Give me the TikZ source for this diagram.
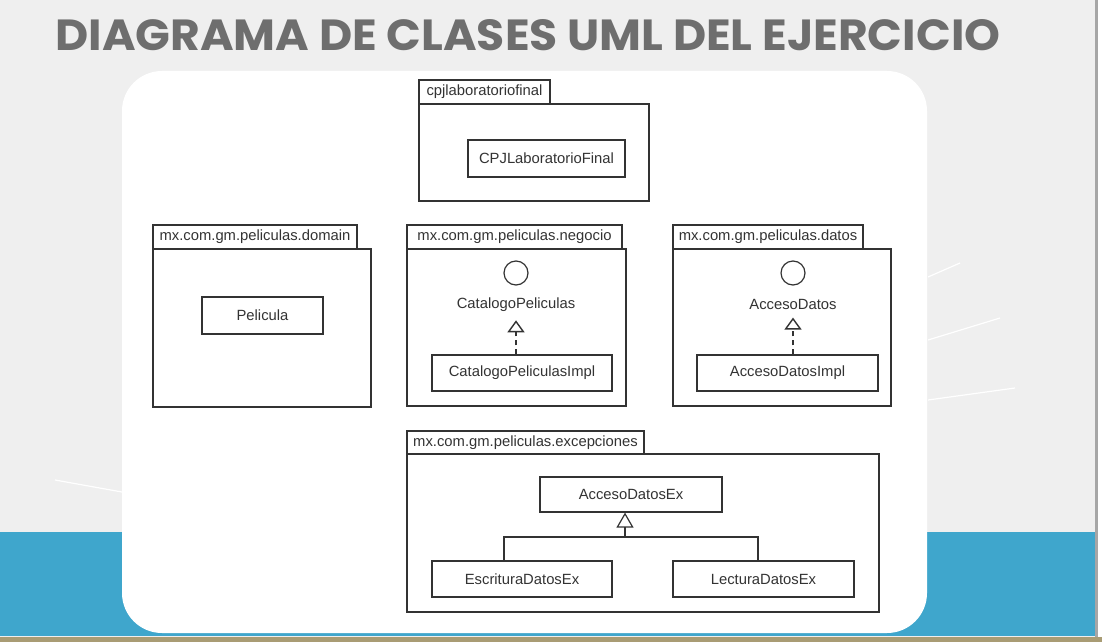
\documentclass[tikz,border=0pt]{standalone}
\usepackage{fontspec}
\setmainfont{Liberation Sans}
\newfontfamily\titlefont{Poppins}
\usetikzlibrary{positioning, fit, arrows.meta}

\definecolor{bgpaper}{HTML}{EFEFEF}
\definecolor{bgwater}{HTML}{3FA6CC}
\definecolor{titlegray}{HTML}{6E6E6E}
\definecolor{umlline}{HTML}{333333}
\definecolor{tanbar}{HTML}{A99C74}

\begin{document}
\begin{tikzpicture}[
    x=0.5pt, y=-0.5pt,
    txt/.style={font=\fontsize{7.4}{9}\selectfont, text=umlline, inner sep=0pt},
    pkg/.style={draw=umlline, line width=0.6pt, fill=white, inner sep=0pt},
    tab/.style={pkg},
    cls/.style={draw=umlline, line width=0.6pt, fill=white, inner sep=0pt},
    iface/.style={circle, draw=umlline, line width=0.6pt, minimum size=12pt, inner sep=0pt},
    ifname/.style={txt, inner sep=1pt},
    realize/.style={
        draw=umlline, line width=0.7pt, dash pattern=on 2.5pt off 2pt,
        -{Triangle[open, width=8.5pt, length=6pt]}, shorten >=3pt
    },
    extends/.style={draw=umlline, line width=0.6pt, -{Triangle[open, width=8.5pt, length=7.5pt]}}
]

% -------------------------
% Slide background
% -------------------------
\fill[bgpaper] (0,0) rectangle (1102,642);
\fill[bgwater] (0,532) rectangle (1095,636);
\draw[white, line width=0.6pt] (55,480) -- (122,492);
\draw[white, line width=0.6pt] (928,277) -- (960,263);
\draw[white, line width=0.6pt] (928,340) -- (1000,318);
\draw[white, line width=0.6pt] (928,400) -- (1015,388);
\fill[white, rounded corners=20pt] (122,71) rectangle (927,633);
\fill[gray!70] (1095,0) rectangle (1098,642);
\fill[white] (1098,0) rectangle (1102,642);
\fill[tanbar] (0,637) rectangle (1102,642);

% Title
\node[anchor=base west, inner sep=0pt, text=titlegray] (title) at (55,51)
    {\resizebox{472.5pt}{15.5pt}{\titlefont\bfseries DIAGRAMA DE CLASES UML DEL EJERCICIO}};

% -------------------------
% Packages
% -------------------------

% 1. cpjlaboratoriofinal (Top)
\node[pkg, fit={(419,104) (649,201)}] (mainPkg) {};
\node[tab, fit={(419,80) (550,104)}, label={[txt]center:cpjlaboratoriofinal}] (mainTab) {};
\node[cls, fit={(468,140) (625,177)}, label={[txt]center:CPJLaboratorioFinal}] (CPJLaboratorioFinal) {};

% 2. domain (Left)
\node[pkg, fit={(153,249) (371,407)}] (domainPkg) {};
\node[tab, fit={(153,225) (357,249)}, label={[txt]center:mx.com.gm.peliculas.domain}] (domainTab) {};
\node[cls, fit={(202,297) (323,334)}, label={[txt]center:Pelicula}] (Pelicula) {};

% 3. negocio (Center)
\node[pkg, fit={(407,249) (626,406)}] (negocioPkg) {};
\node[tab, fit={(407,225) (622,249)}, label={[txt]center:mx.com.gm.peliculas.negocio}] (negocioTab) {};
\node[iface] (catalogoIf) at (516,273) {};
\node[ifname] (CatalogoPeliculas) at (516,305) {CatalogoPeliculas};
\node[cls, fit={(432,355) (612,391)}, label={[txt]center:CatalogoPeliculasImpl}] (CatalogoPeliculasImpl) {};

% 4. datos (Right)
\node[pkg, fit={(673,249) (891,406)}] (datosPkg) {};
\node[tab, fit={(673,225) (863,249)}, label={[txt]center:mx.com.gm.peliculas.datos}] (datosTab) {};
\node[iface] (accesoIf) at (793,273) {};
\node[ifname] (AccesoDatos) at (793,304) {AccesoDatos};
\node[cls, fit={(697,355) (878,391)}, label={[txt]center:AccesoDatosImpl}] (AccesoDatosImpl) {};

% 5. excepciones (Bottom)
\node[pkg, fit={(407,454) (879,612)}] (excPkg) {};
\node[tab, fit={(407,431) (644,454)}, label={[txt]center:mx.com.gm.peliculas.excepciones}] (excTab) {};
\node[cls, fit={(540,477) (722,512)}, label={[txt]center:AccesoDatosEx}] (AccesoDatosEx) {};
\node[cls, fit={(432,561) (612,597)}, label={[txt]center:EscrituraDatosEx}] (EscrituraDatosEx) {};
\node[cls, fit={(673,561) (854,597)}, label={[txt]center:LecturaDatosEx}] (LecturaDatosEx) {};

% -------------------------
% Realizations & Generalizations
% -------------------------
\draw[realize] (CatalogoPeliculas |- CatalogoPeliculasImpl.north) -- (CatalogoPeliculas.south);
\draw[realize] (AccesoDatos |- AccesoDatosImpl.north) -- (AccesoDatos.south);

\coordinate (excJoin) at (625,537);
\draw[extends] ([xshift=-9pt]EscrituraDatosEx.north) |- (excJoin) -- (excJoin |- AccesoDatosEx.south);
\draw[umlline, line width=0.6pt] ([xshift=-2.75pt]LecturaDatosEx.north) |- (excJoin);

\end{tikzpicture}
\end{document}
